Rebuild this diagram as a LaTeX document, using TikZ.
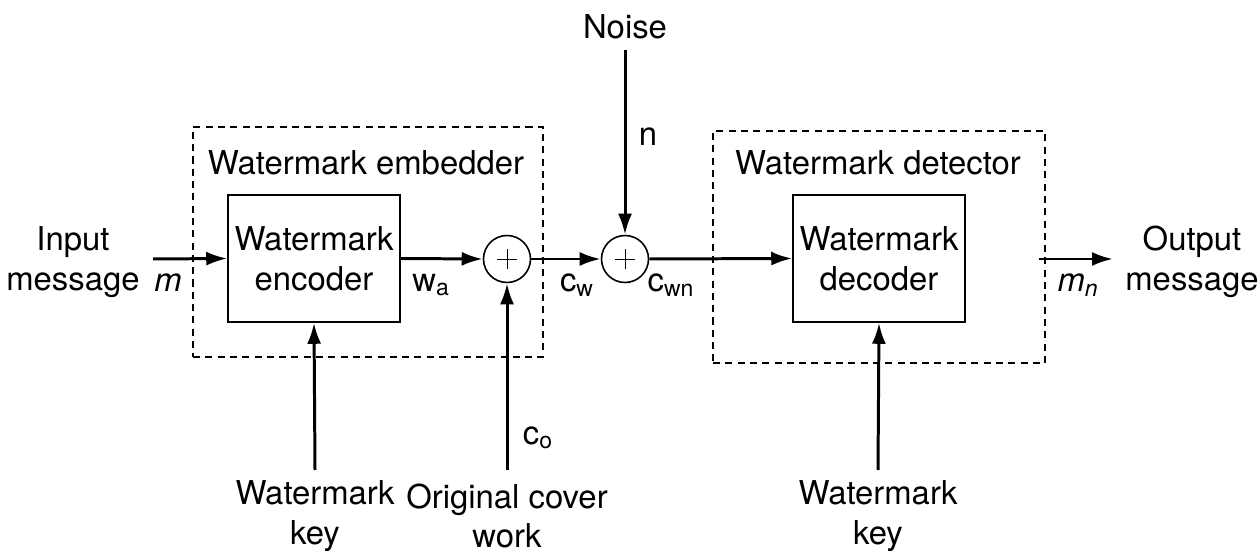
\documentclass[tikz,border=0pt]{standalone}
\usepackage{fontspec}
\setmainfont{TeX Gyre Heros}
\usetikzlibrary{arrows.meta,positioning}

\begin{document}
\begin{tikzpicture}[x=0.02cm,y=-0.02cm,font=\fontsize{18.7}{22.7}\selectfont,
  box/.style={draw,line width=0.9pt,minimum width=3.44cm,minimum height=2.54cm,align=center,inner sep=0pt},
  frame/.style={draw,line width=0.7pt,dash pattern=on 4pt off 3pt,inner sep=0pt},
  adder/.style={draw,circle,line width=0.9pt,minimum size=0.94cm,inner sep=0pt,
    path picture={\draw[line width=0.5pt] ([xshift=-2mm]path picture bounding box.center)--([xshift=2mm]path picture bounding box.center)
      ([yshift=-2mm]path picture bounding box.center)--([yshift=2mm]path picture bounding box.center);}},
  arr/.style={-{Latex[length=4.2mm,width=2.8mm]},line width=1.7pt},
  lbl/.style={align=center,inner sep=1pt}]
\useasboundingbox (0,0) rectangle (1260,553);
% dashed frames
\node[frame,minimum width=7cm,minimum height=4.6cm] (emb) at (368,242) {};
\node[frame,minimum width=6.64cm,minimum height=4.64cm] (det) at (879,247) {};
\node[lbl] (embl) at (366,163) {Watermark embedder};
\node[lbl] (detl) at (878,163) {Watermark detector};
% blocks
\node[box] (enc) at (314,258.5) {Watermark\\encoder};
\node[box] (dec) at (879,258.5) {Watermark\\decoder};
\node[adder] (add1) at (507,259) {};
\node[adder] (add2) at (625,259) {};
% outside texts
\node[lbl] (inp) at (73,262) {Input\\message};
\node[lbl] (outp) at (1192,262) {Output\\message};
\node[lbl] (noise) at (625,27) {Noise};
\node[lbl] (key1) at (315,516) {Watermark\\key};
\node[lbl] (cover) at (507,516) {Original cover\\work};
\node[lbl] (key2) at (878,516) {Watermark\\key};
% free ends
\coordinate (instart) at (153,259);
\coordinate (outstart) at (1039,259);
\coordinate (outend) at (1113,259);
\coordinate (nstart) at (625,50);
\coordinate (k1start) at (315,470);
\coordinate (costart) at (507,470);
\coordinate (k2start) at (878,470);
% connectors
\draw[arr] (instart)--(enc.west);
\draw[arr] (enc.east)--(add1.west);
\draw[arr] (add1.east)--(add2.west);
\draw[arr] (add2.east)--(dec.west);
\draw[arr] (outstart)--(outend);
\draw[arr] (nstart)--(add2.north);
\draw[arr] (k1start)--(enc.south);
\draw[arr] (costart)--(add1.south);
\draw[arr] (k2start)--(dec.south);
% signal labels
\node[lbl] (m) at (168,283) {\textit{m}};
\node[lbl] (wa) at (431,285) {w\textsubscript{a}};
\node[lbl] (cw) at (577,285) {c\textsubscript{w}};
\node[lbl] (cwn) at (671,285) {c\textsubscript{wn}};
\node[lbl] (mn) at (1078,285) {\textit{m\textsubscript{n}}};
\node[lbl] (nl) at (648,137) {n};
\node[lbl] (co) at (538,438) {c\textsubscript{o}};
\end{tikzpicture}
\end{document}
